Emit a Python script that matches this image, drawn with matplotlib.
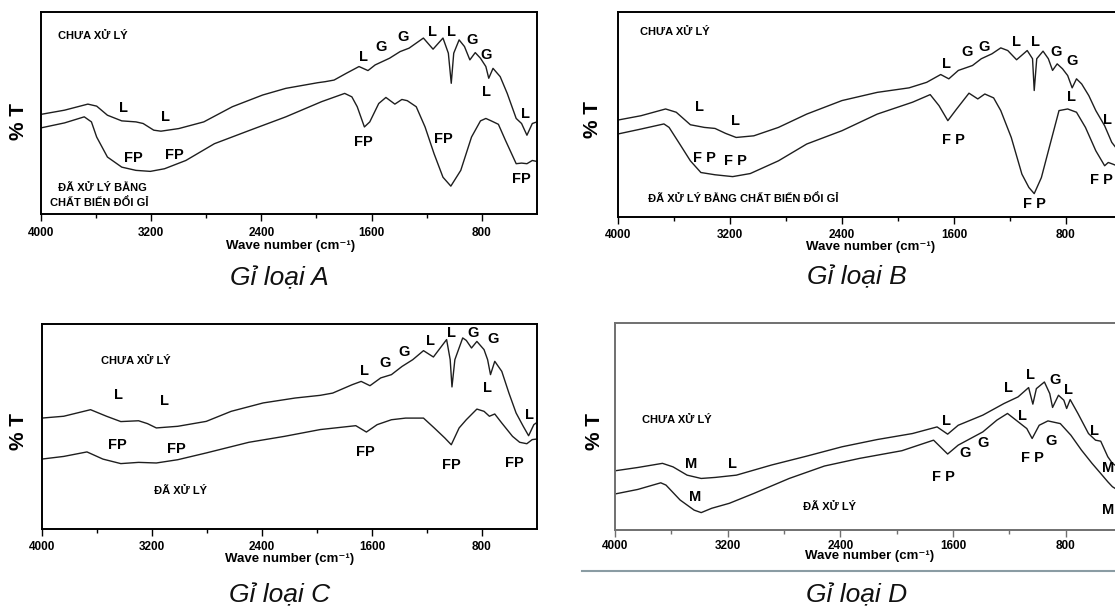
import matplotlib.pyplot as plt
from matplotlib.lines import Line2D

plt.rcParams['font.family'] = ['Liberation Sans', 'DejaVu Sans']

# ---- Gỉ loại A ----
a_wn_tren = [4000, 3827, 3658, 3594, 3516, 3412, 3309, 3257, 3180, 3128, 2998, 2817, 2610, 2390,
             2222, 1990, 1937, 1872, 1782, 1691, 1626, 1574, 1470, 1393, 1328, 1224, 1154, 1082,
             1043, 1022, 1004, 965, 926, 887, 848, 810, 771, 750, 719, 667, 616, 551, 512, 473,
             434, 400]
a_t_tren = [49.3, 51.4, 54.4, 53.4, 48.9, 46.1, 45.6, 44.8, 41.5, 41.0, 42.3, 45.6, 53.1, 58.9,
            62.2, 65.0, 65.5, 66.3, 69.7, 73.0, 71.0, 73.8, 77.1, 80.4, 82.1, 87.1, 81.6, 87.1,
            79.6, 64.7, 79.6, 86.2, 82.9, 76.3, 79.9, 77.1, 73.0, 67.2, 72.1, 68.0, 59.7, 47.3,
            44.8, 39.0, 44.8, 45.6]
a_wn_duoi = [4000, 3827, 3684, 3632, 3594, 3516, 3412, 3309, 3205, 3102, 2947, 2740, 2481, 2222,
             1963, 1795, 1743, 1704, 1652, 1613, 1548, 1496, 1431, 1380, 1341, 1276, 1212, 1147,
             1082, 1025, 953, 875, 810, 771, 732, 680, 629, 551, 512, 473, 434, 400]
a_t_duoi = [42.6, 45.1, 48.1, 45.6, 38.1, 28.2, 23.2, 21.6, 21.1, 22.4, 26.5, 34.8, 41.5, 48.1,
            55.6, 59.7, 58.0, 53.1, 43.1, 45.6, 54.7, 57.7, 54.4, 56.7, 56.1, 53.1, 43.1, 29.9,
            18.2, 13.8, 21.6, 38.1, 46.1, 47.3, 46.1, 44.4, 36.5, 24.9, 25.2, 24.9, 26.5, 26.0]
a_nhan = [('L', 3399, 52.7), ('L', 3096, 47.8), ('L', 1657, 77.6), ('G', 1528, 82.9),
          ('G', 1375, 87.6), ('L', 1160, 90.0), ('L', 1022, 90.0), ('G', 870, 85.9),
          ('G', 767, 78.8), ('L', 767, 60.2), ('L', 482, 49.4),
          ('FP', 3330, 27.7), ('FP', 3029, 29.4), ('FP', 1657, 35.7), ('FP', 1082, 37.3),
          ('FP', 512, 17.4)]
a_ghichu = [('CHƯA XỬ LÝ', 3878, 88.2), ('ĐÃ XỬ LÝ BẰNG', 3878, 12.8),
            ('CHẤT BIẾN ĐỔI GỈ', 3930, 5.8)]

# ---- Gỉ loại B ----
b_wn_tren = [4000, 3836, 3660, 3584, 3483, 3383, 3307, 3232, 3156, 3030, 2854, 2652, 2400, 2148,
             1921, 1795, 1695, 1637, 1569, 1468, 1405, 1329, 1266, 1216, 1153, 1077, 1039, 1027,
             1009, 964, 926, 896, 863, 825, 788, 756, 725, 688, 637, 587, 524, 473, 400]
b_t_tren = [47.3, 49.4, 52.7, 51.1, 45.0, 43.7, 43.2, 40.8, 38.8, 39.6, 43.7, 50.2, 56.8, 60.8,
            63.0, 65.7, 69.5, 67.4, 71.5, 73.9, 77.2, 79.6, 82.5, 81.2, 76.7, 81.2, 77.2, 61.7,
            77.2, 80.9, 77.2, 71.5, 74.7, 72.3, 69.0, 63.0, 67.4, 64.9, 59.2, 51.9, 44.5, 36.4,
            30.0]
b_wn_duoi = [4000, 3836, 3672, 3635, 3559, 3483, 3408, 3307, 3181, 3055, 2854, 2652, 2400, 2148,
             1896, 1770, 1707, 1644, 1581, 1493, 1430, 1380, 1317, 1266, 1191, 1115, 1065, 1027,
             976, 913, 850, 788, 725, 661, 587, 524, 498, 466, 400]
b_t_duoi = [40.5, 42.9, 45.4, 43.7, 35.6, 27.4, 21.7, 20.6, 19.7, 21.2, 27.4, 35.6, 42.1, 50.2,
            56.0, 59.7, 54.3, 47.0, 52.7, 60.4, 57.6, 60.0, 58.1, 51.9, 38.8, 20.9, 14.4, 11.4,
            19.2, 35.6, 51.9, 52.7, 51.1, 43.7, 32.3, 25.0, 26.6, 25.8, 24.0]
b_nhan = [('L', 3420, 53.5), ('L', 3163, 46.7), ('L', 1652, 74.7), ('G', 1506, 80.4),
          ('G', 1385, 82.9), ('L', 1153, 85.3), ('L', 1015, 85.3), ('G', 872, 80.4),
          ('G', 758, 76.0), ('L', 763, 58.4), ('L', 503, 47.3),
          ('F P', 1606, 37.5), ('F P', 3383, 29.0), ('F P', 3163, 27.4), ('F P', 1027, 6.2),
          ('F P', 548, 17.9)]
b_ghichu = [('CHƯA XỬ LÝ', 3841, 90.2), ('ĐÃ XỬ LÝ BẰNG CHẤT BIẾN ĐỔI GỈ', 3786, 9.1)]

# ---- Gỉ loại C ----
c_wn_tren = [4000, 3840, 3645, 3529, 3425, 3296, 3231, 3167, 3011, 2804, 2623, 2390, 2157, 1976,
             1885, 1743, 1678, 1614, 1536, 1458, 1381, 1303, 1225, 1153, 1057, 1031, 1018, 997,
             940, 914, 876, 837, 785, 759, 738, 707, 656, 604, 552, 500, 461, 423, 400]
c_t_tren = [54.1, 55.0, 58.2, 55.0, 52.4, 52.8, 51.4, 49.3, 50.1, 52.5, 57.4, 61.5, 63.9, 65.2,
            66.3, 70.4, 72.0, 69.9, 73.7, 75.3, 79.3, 82.6, 87.0, 83.9, 92.4, 82.6, 69.3, 82.6,
            93.2, 92.0, 88.3, 91.5, 87.5, 82.6, 75.3, 81.8, 76.9, 66.3, 56.6, 50.1, 45.5, 50.9,
            52.0]
c_wn_duoi = [4000, 3840, 3671, 3555, 3425, 3296, 3167, 3011, 2804, 2494, 2235, 1976, 1717, 1640,
             1562, 1458, 1355, 1225, 1147, 1070, 1023, 966, 914, 837, 785, 746, 707, 656, 578,
             526, 474, 435, 400]
c_t_duoi = [34.1, 35.4, 37.6, 34.1, 31.9, 32.5, 32.2, 33.8, 37.1, 42.3, 45.2, 48.5, 50.4, 47.3,
            50.9, 53.3, 54.1, 54.1, 49.3, 44.4, 41.1, 49.3, 53.3, 58.5, 57.4, 55.0, 56.1, 51.7,
            45.2, 42.3, 41.6, 43.6, 43.9]
c_nhan = [('L', 3443, 65.5), ('L', 3109, 62.3), ('L', 1651, 76.9), ('G', 1505, 81.0),
          ('G', 1368, 86.3), ('L', 1174, 91.9), ('L', 1018, 95.6), ('G', 863, 95.6),
          ('G', 720, 92.7), ('L', 759, 68.8), ('L', 456, 55.8),
          ('FP', 3451, 40.8), ('FP', 3024, 39.2), ('FP', 1644, 37.7), ('FP', 1023, 31.1),
          ('FP', 565, 32.2)]
c_ghichu = [('CHƯA XỬ LÝ', 3568, 81.8), ('ĐÃ XỬ LÝ', 3187, 18.7)]

# ---- Gỉ loại D ----
d_wn_tren = [4000, 3838, 3663, 3588, 3488, 3388, 3288, 3138, 2888, 2638, 2388, 2138, 1888, 1713,
             1638, 1563, 1388, 1238, 1138, 1063, 1033, 1008, 951, 913, 893, 851, 813, 793, 768,
             713, 638, 588, 551, 501, 468, 400]
d_t_tren = [28.6, 30.2, 32.2, 30.5, 26.5, 24.9, 25.4, 26.5, 31.4, 35.7, 40.2, 43.7, 46.6, 49.8,
            46.3, 50.6, 55.5, 61.1, 64.3, 68.8, 60.8, 68.3, 71.5, 65.9, 59.2, 65.1, 62.7, 58.7,
            63.0, 56.3, 46.6, 43.4, 42.9, 35.4, 32.2, 29.0]
d_wn_duoi = [4000, 3838, 3675, 3638, 3538, 3438, 3388, 3313, 3188, 3013, 2763, 2513, 2263, 1963,
             1738, 1638, 1563, 1388, 1288, 1213, 1138, 1076, 1038, 988, 926, 838, 763, 688, 613,
             551, 501, 468, 400]
d_t_duoi = [17.4, 19.6, 22.8, 21.7, 14.5, 9.6, 8.4, 10.5, 12.9, 17.7, 24.9, 30.9, 34.6, 38.3,
            43.4, 36.7, 41.0, 47.4, 53.1, 56.3, 52.3, 49.0, 44.2, 50.6, 52.7, 51.4, 45.8, 38.6,
            32.2, 27.3, 23.3, 20.9, 18.0]
d_nhan = [('M', 3458, 31.8), ('L', 3163, 31.8), ('L', 1646, 52.7), ('G', 1513, 37.3),
          ('G', 1388, 42.1), ('L', 1208, 68.8), ('L', 1051, 74.8), ('L', 1106, 55.0),
          ('G', 876, 72.3), ('L', 782, 67.8), ('G', 901, 43.1), ('F P', 1038, 35.0),
          ('F P', 1671, 25.4), ('L', 593, 47.7), ('M', 501, 30.1), ('M', 501, 9.6),
          ('M', 3433, 16.1)]
d_ghichu = [('CHƯA XỬ LÝ', 3808, 53.1), ('ĐÃ XỬ LÝ', 2663, 11.3)]

W, H = 1115, 607
fig = plt.figure(figsize=(11.15, 6.07), dpi=100)


def truc_px(trai, tren, phai, duoi):
    return fig.add_axes([trai / W, 1 - duoi / H, (phai - trai) / W, (duoi - tren) / H])


def ve_panel(ax, wn1, t1, wn2, t2, nhan, ghichu, mau_truc='black', pad=4):
    ax.plot(wn1, t1, color='#1e1e1e', lw=1.0)
    ax.plot(wn2, t2, color='#1e1e1e', lw=1.0)
    ax.set_xlim(4000, 400)
    ax.set_ylim(0, 100)
    ax.set_xticks([4000, 3200, 2400, 1600, 800])
    ax.set_xticks([3600, 2800, 2000, 1200], minor=True)
    ax.set_yticks([])
    ax.tick_params(axis='x', which='major', length=5, width=1, labelsize=8.5, pad=pad,
                   color=mau_truc)
    ax.tick_params(axis='x', which='minor', length=3, width=1, color=mau_truc)
    for lab in ax.get_xticklabels():
        lab.set_fontweight('bold')
    for s in ax.spines.values():
        s.set_color(mau_truc)
        s.set_linewidth(1.4)
    for chu, x, y in nhan:
        ax.text(x, y, chu, ha='center', va='center', fontsize=10.5, fontweight='bold')
    for chu, x, y in ghichu:
        ax.text(x, y, chu, ha='left', va='center', fontsize=8, fontweight='bold')


ax_a = truc_px(40.7, 12, 537, 214)
ax_b = truc_px(618, 12, 1122, 217)
ax_c = truc_px(41.7, 324, 537, 529)
ax_d = truc_px(615, 323, 1122, 530)

ve_panel(ax_a, a_wn_tren, a_t_tren, a_wn_duoi, a_t_duoi, a_nhan, a_ghichu)
ve_panel(ax_b, b_wn_tren, b_t_tren, b_wn_duoi, b_t_duoi, b_nhan, b_ghichu)
ve_panel(ax_c, c_wn_tren, c_t_tren, c_wn_duoi, c_t_duoi, c_nhan, c_ghichu)
ve_panel(ax_d, d_wn_tren, d_t_tren, d_wn_duoi, d_t_duoi, d_nhan, d_ghichu,
         mau_truc='#707070', pad=2)


def chu_px(x, y, s, **kw):
    fig.text(x / W, 1 - y / H, s, ha='center', va='center', **kw)


# nhãn trục và tiêu đề
for x, y in [(18, 121), (593, 120), (18, 432), (595, 432)]:
    chu_px(x, y, '% T', fontsize=15, fontweight='bold', rotation=90)
for x, y in [(291, 246), (871, 247), (290, 559), (870, 556)]:
    chu_px(x, y, 'Wave number (cm⁻¹)', fontsize=9.5, fontweight='bold')
for x, y, s in [(279, 278, 'Gỉ loại A'), (857, 277, 'Gỉ loại B'),
                (280, 595, 'Gỉ loại C'), (857, 595, 'Gỉ loại D')]:
    chu_px(x, y, s, fontsize=19, style='italic', color='#111111')

# đường kẻ ngang dưới hình D
fig.add_artist(Line2D([582 / W, 1.0], [1 - 571 / H, 1 - 571 / H], color='#8a9ca3', lw=1.5))

fig.savefig('out.png', dpi=100)
